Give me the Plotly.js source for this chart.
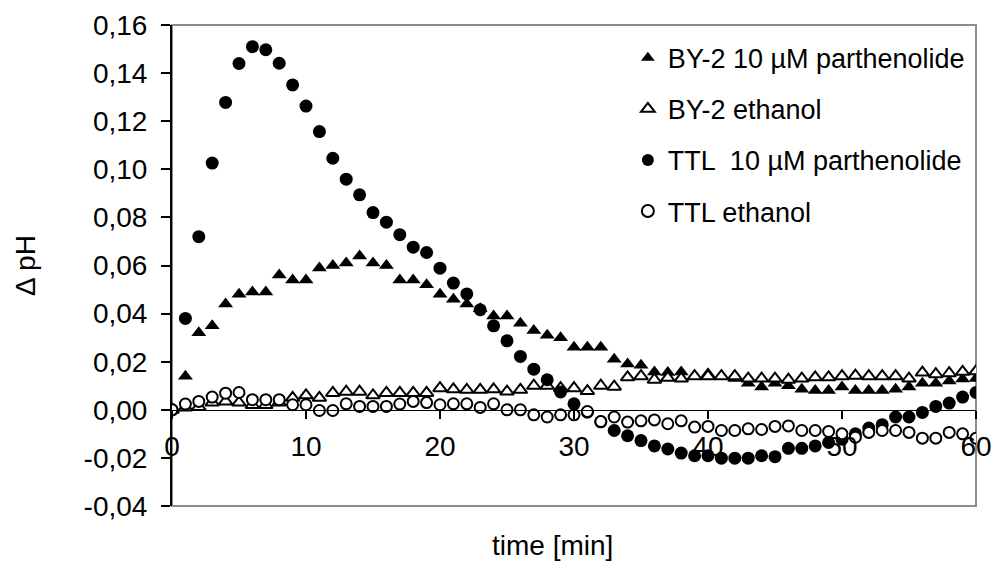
<!DOCTYPE html>
<html>
<head>
<meta charset="utf-8">
<script src="https://cdn.plot.ly/plotly-3.0.1.min.js"></script>
<style>html,body{margin:0;padding:0;background:#fff;}#chart{width:992px;height:566px;}</style>
</head>
<body>
<div id="chart"></div>
<script>
const time = [0,1,2,3,4,5,6,7,8,9,10,11,12,13,14,15,16,17,18,19,20,21,22,23,24,25,26,27,28,29,30,31,32,33,34,35,36,37,38,39,40,41,42,43,44,45,46,47,48,49,50,51,52,53,54,55,56,57,58,59,60];

const by2Parthenolide = [0,0.014,0.032,0.035,0.044,0.048,0.049,0.049,0.056,0.054,0.054,0.059,0.060,0.061,0.064,0.061,0.060,0.054,0.054,0.052,0.048,0.046,0.044,0.042,0.039,0.039,0.036,0.033,0.031,0.030,0.026,0.026,0.026,0.021,0.019,0.0185,0.0157,0.0155,0.0157,0.014,0.015,0.014,0.013,0.011,0.0095,0.011,0.010,0.0085,0.008,0.008,0.0095,0.008,0.008,0.008,0.0085,0.0095,0.011,0.011,0.012,0.0128,0.013];

const by2Ethanol = [0,0.001,0.0012,0.003,0.0035,0.003,0.002,0.002,0.003,0.005,0.006,0.005,0.007,0.0075,0.0075,0.006,0.007,0.007,0.007,0.007,0.009,0.0085,0.0083,0.0083,0.0085,0.0076,0.0083,0.010,0.010,0.009,0.009,0.0078,0.010,0.0096,0.0135,0.014,0.0125,0.0133,0.013,0.014,0.014,0.014,0.014,0.013,0.013,0.013,0.0125,0.013,0.0135,0.0135,0.014,0.0142,0.014,0.014,0.014,0.013,0.0155,0.0148,0.0152,0.0158,0.016];

const ttlParthenolide = [0,0.038,0.072,0.1026,0.1278,0.144,0.151,0.1497,0.1441,0.1351,0.1263,0.1157,0.1046,0.0959,0.0894,0.082,0.078,0.0728,0.0676,0.0654,0.0589,0.0527,0.0482,0.0416,0.0349,0.0287,0.0222,0.0169,0.0125,0.0074,0.0025,-0.001,-0.005,-0.0086,-0.0108,-0.0128,-0.015,-0.0163,-0.018,-0.0191,-0.0191,-0.0201,-0.0201,-0.0201,-0.0191,-0.0195,-0.016,-0.016,-0.015,-0.0136,-0.0122,-0.010,-0.0076,-0.0062,-0.003,-0.003,-0.0011,0.0014,0.0028,0.0053,0.0072];

const ttlEthanol = [0,0.0024,0.0035,0.0053,0.0069,0.0072,0.0042,0.0042,0.0042,0.0021,0.0021,-0.0003,-0.0003,0.0025,0.0014,0.0014,0.0014,0.0024,0.0035,0.003,0.0021,0.0025,0.0025,0.001,0.0025,0.0,0.0,-0.0021,-0.003,-0.0021,-0.0021,-0.0007,-0.0049,-0.003,-0.0051,-0.0046,-0.0042,-0.0058,-0.0046,-0.0072,-0.0069,-0.0086,-0.0086,-0.0079,-0.0082,-0.0069,-0.0067,-0.0086,-0.0086,-0.009,-0.010,-0.0114,-0.0094,-0.0086,-0.0086,-0.0094,-0.0118,-0.0118,-0.0094,-0.010,-0.0118];

const seriesNames = ['BY-2 10 µM parthenolide','BY-2 ethanol','TTL  10 µM parthenolide','TTL ethanol'];
const yTickVals = [-0.04,-0.02,0,0.02,0.04,0.06,0.08,0.10,0.12,0.14,0.16];
const yTickText = ['-0,04','-0,02','0,00','0,02','0,04','0,06','0,08','0,10','0,12','0,14','0,16'];
const xTickVals = [0,10,20,30,40,50,60];
const xTickText = ['0','10','20','30','40','50','60'];

const FONT = 'Liberation Sans, Arial, sans-serif';

const traces = [
  {x: time, y: by2Parthenolide, name: seriesNames[0], legendgroup: 'a', type: 'scatter', mode: 'markers',
   marker: {symbol: 'triangle-up', size: 13, color: '#000000', line: {width: 0}}},
  {x: time, y: by2Ethanol, name: seriesNames[1], legendgroup: 'b', type: 'scatter', mode: 'markers',
   marker: {symbol: 'triangle-up', size: 12, color: '#ffffff', line: {width: 2, color: '#000000'}}},
  {x: time, y: ttlParthenolide, name: seriesNames[2], legendgroup: 'c', type: 'scatter', mode: 'markers',
   marker: {symbol: 'circle', size: 13, color: '#000000', line: {width: 0}}},
  {x: time, y: ttlEthanol, name: seriesNames[3], legendgroup: 'd', type: 'scatter', mode: 'markers',
   marker: {symbol: 'circle', size: 11, color: '#ffffff', line: {width: 2, color: '#000000'}}}
];

const layout = {
  width: 992, height: 566,
  margin: {l: 172, r: 16, t: 25, b: 60, pad: 0},
  paper_bgcolor: '#ffffff', plot_bgcolor: '#ffffff',
  font: {family: FONT, size: 28, color: '#000000'},
  showlegend: true,
  legend: {
    x: 0.567, xanchor: 'left', y: 0.982, yanchor: 'top',
    font: {family: FONT, size: 27, color: '#000000'},
    bgcolor: 'rgba(0,0,0,0)', borderwidth: 0,
    traceorder: 'grouped', tracegroupgap: 13, itemsizing: 'constant'
  },
  xaxis: {
    range: [0, 60], anchor: 'free', position: 0.2,
    tickmode: 'array', tickvals: xTickVals, ticktext: xTickText,
    showline: true, linecolor: '#000000', linewidth: 1.5,
    ticks: 'outside', ticklen: 8, tickwidth: 1.5, tickcolor: '#000000',
    ticklabelstandoff: 3,
    tickfont: {family: FONT, size: 28, color: '#000000'},
    showgrid: false, zeroline: false, automargin: false
  },
  yaxis: {
    range: [-0.04, 0.16],
    tickmode: 'array', tickvals: yTickVals, ticktext: yTickText,
    showline: true, linecolor: '#000000', linewidth: 2,
    ticks: 'outside', ticklen: 9, tickwidth: 2, tickcolor: '#000000',
    ticklabelstandoff: 8,
    tickfont: {family: FONT, size: 28, color: '#000000'},
    showgrid: false, zeroline: false, automargin: false,
    title: {text: 'Δ pH', font: {family: FONT, size: 28, color: '#000000'}, standoff: 40}
  },
  shapes: [
    {type: 'rect', xref: 'paper', yref: 'paper', x0: 0, x1: 1, y0: 0, y1: 1,
     line: {color: '#8c8c8c', width: 2}, fillcolor: 'rgba(0,0,0,0)', layer: 'below'}
  ],
  annotations: [
    {text: 'time [min]', xref: 'paper', yref: 'paper', x: (552 - 172) / 804, y: -(545 - 506) / 481,
     xanchor: 'center', yanchor: 'middle', showarrow: false,
     font: {family: FONT, size: 28, color: '#000000'}}
  ]
};

Plotly.newPlot('chart', traces, layout, {displayModeBar: false, staticPlot: true});
</script>
</body>
</html>
